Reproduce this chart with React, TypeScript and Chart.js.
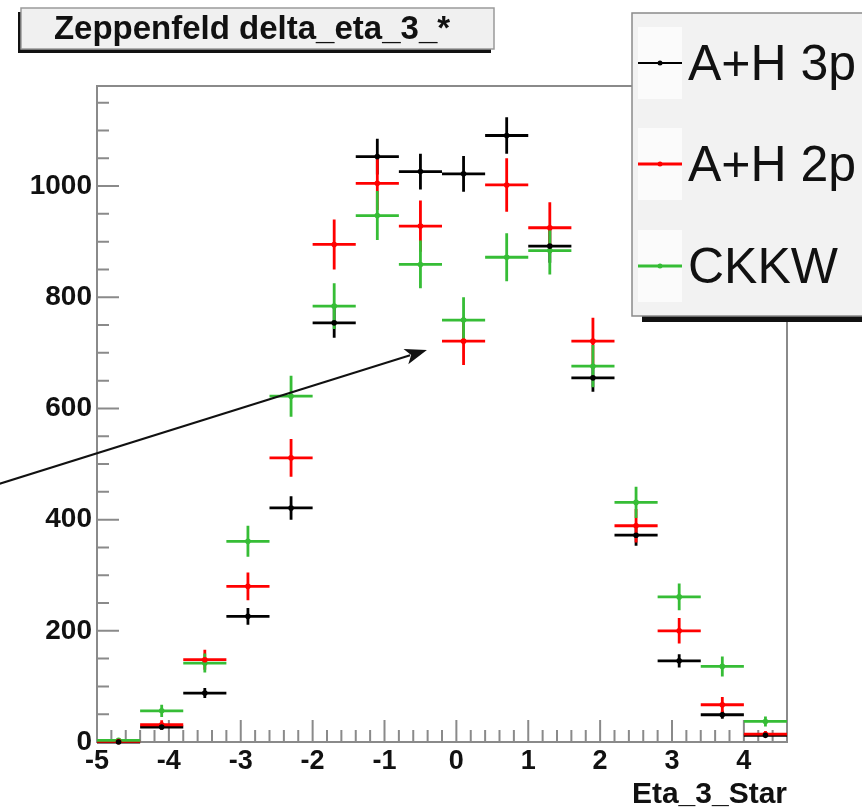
import React, { useEffect, useRef } from 'react';
import { Chart, registerables } from 'chart.js';

Chart.register(...registerables);

// ---------- data ----------
const BIN_CENTERS = [-4.7, -4.1, -3.5, -2.9, -2.3, -1.7, -1.1, -0.5, 0.1, 0.7, 1.3, 1.9, 2.5, 3.1, 3.7, 4.3];
const BIN_WIDTH = 0.6;

const AH3P_VALUES = [0, 27, 88, 226, 421, 754, 1053, 1026, 1022, 1091, 892, 655, 372, 146, 49, 12];
const AH3P_ERRORS = [0, 5, 9, 15, 21, 27, 32, 32, 32, 33, 30, 25, 19, 12, 7, 3];

const AH2P_VALUES = [1, 31, 148, 280, 511, 895, 1005, 928, 721, 1002, 925, 721, 389, 200, 67, 14];
const AH2P_ERRORS = [1, 8, 18, 25, 34, 45, 48, 46, 43, 48, 46, 42, 30, 23, 14, 6];

const CKKW_VALUES = [3, 56, 142, 361, 622, 784, 947, 859, 759, 872, 884, 676, 431, 261, 136, 37];
const CKKW_ERRORS = [2, 11, 17, 28, 37, 41, 44, 43, 41, 43, 43, 38, 28, 24, 18, 9];

const SERIES_LABELS = ['A+H 3p', 'A+H 2p', 'CKKW'];
const SERIES_COLORS = ['#000000', '#ff0000', '#36bd36'];

const CHART_TITLE = 'Zeppenfeld delta_eta_3_*';
const X_TITLE = 'Eta_3_Star';

const X_MIN = -5;
const X_MAX = 4.6;
const Y_MIN = 0;
const Y_MAX = 1180;
const X_TICK_VALUES = [-5, -4, -3, -2, -1, 0, 1, 2, 3, 4];
const Y_TICK_VALUES = [0, 200, 400, 600, 800, 1000];
const X_MINOR_STEP = 0.2;
const Y_MINOR_STEP = 50;

// arrow annotation in data coordinates
const ARROW_FROM = { x: -6.37, y: 464 };
const ARROW_TO = { x: -0.41, y: 705 };

const FONT = '"Liberation Sans", Arial, Helvetica, sans-serif';
const FRAME_COLOR = '#8a8a8a';

function makePoints(values: number[]) {
  return values.map((v, i) => ({ x: BIN_CENTERS[i], y: v }));
}

const rootStylePlugin = {
  id: 'rootStyle',
  beforeDatasetsDraw(chart: any) {
    const { ctx, chartArea: ca, scales } = chart;
    const xs = scales.x;
    const ys = scales.y;
    ctx.save();
    // frame
    ctx.strokeStyle = FRAME_COLOR;
    ctx.lineWidth = 2;
    ctx.strokeRect(ca.left, ca.top, ca.right - ca.left, ca.bottom - ca.top);
    ctx.beginPath();
    // x ticks (inward)
    const nX = Math.round((X_MAX - X_MIN) / X_MINOR_STEP);
    for (let k = 0; k <= nX; k++) {
      const v = X_MIN + k * X_MINOR_STEP;
      const isMajor = X_TICK_VALUES.some((t) => Math.abs(t - v) < 1e-6);
      const px = xs.getPixelForValue(v);
      const len = isMajor ? 22 : 12;
      ctx.moveTo(px, ca.bottom);
      ctx.lineTo(px, ca.bottom - len);
    }
    // y ticks (inward)
    const nY = Math.floor((Y_MAX - Y_MIN) / Y_MINOR_STEP);
    for (let k = 0; k <= nY; k++) {
      const v = Y_MIN + k * Y_MINOR_STEP;
      const isMajor = Y_TICK_VALUES.includes(v);
      const py = ys.getPixelForValue(v);
      const len = isMajor ? 22 : 12;
      ctx.moveTo(ca.left, py);
      ctx.lineTo(ca.left + len, py);
    }
    ctx.stroke();

    // error bars
    chart.data.datasets.forEach((ds: any, i: number) => {
      const meta = chart.getDatasetMeta(i);
      if (meta.hidden) return;
      ctx.strokeStyle = ds.borderColor;
      ctx.lineWidth = 2.8;
      ds.data.forEach((p: any, j: number) => {
        const err = ds.errors[j];
        const yC = ys.getPixelForValue(p.y);
        const x0 = xs.getPixelForValue(p.x - BIN_WIDTH / 2);
        const x1 = xs.getPixelForValue(p.x + BIN_WIDTH / 2);
        const xC = xs.getPixelForValue(p.x);
        ctx.beginPath();
        ctx.moveTo(x0, yC);
        ctx.lineTo(x1, yC);
        if (err > 0) {
          ctx.moveTo(xC, ys.getPixelForValue(p.y + err));
          ctx.lineTo(xC, ys.getPixelForValue(Math.max(Y_MIN, p.y - err)));
        }
        ctx.stroke();
      });
    });
    ctx.restore();
  },
  afterDraw(chart: any) {
    const { ctx, scales } = chart;
    const xs = scales.x;
    const ys = scales.y;
    ctx.save();

    // arrow
    const ax0 = xs.getPixelForValue(ARROW_FROM.x);
    const ay0 = ys.getPixelForValue(ARROW_FROM.y);
    const ax1 = xs.getPixelForValue(ARROW_TO.x);
    const ay1 = ys.getPixelForValue(ARROW_TO.y);
    const ang = Math.atan2(ay1 - ay0, ax1 - ax0);
    const headLen = 22;
    const headHalf = 8;
    ctx.strokeStyle = '#111';
    ctx.fillStyle = '#111';
    ctx.lineWidth = 2;
    ctx.beginPath();
    ctx.moveTo(ax0, ay0);
    ctx.lineTo(ax1 - Math.cos(ang) * headLen * 0.8, ay1 - Math.sin(ang) * headLen * 0.8);
    ctx.stroke();
    const bx = ax1 - Math.cos(ang) * headLen;
    const by = ay1 - Math.sin(ang) * headLen;
    ctx.beginPath();
    ctx.moveTo(ax1, ay1);
    ctx.lineTo(bx + Math.sin(ang) * headHalf, by - Math.cos(ang) * headHalf);
    ctx.lineTo(bx + Math.cos(ang) * headLen * 0.25, by + Math.sin(ang) * headLen * 0.25);
    ctx.lineTo(bx - Math.sin(ang) * headHalf, by + Math.cos(ang) * headHalf);
    ctx.closePath();
    ctx.fill();

    // title box
    const tb = { x: 21, y: 8, w: 473, h: 41 };
    ctx.fillStyle = '#111';
    ctx.fillRect(tb.x - 3, tb.y + 4, tb.w, tb.h);
    ctx.fillStyle = '#f0f0f0';
    ctx.fillRect(tb.x, tb.y, tb.w, tb.h);
    ctx.strokeStyle = '#9a9a9a';
    ctx.lineWidth = 1.5;
    ctx.strokeRect(tb.x, tb.y, tb.w, tb.h);
    ctx.fillStyle = '#111';
    ctx.font = `bold 33px ${FONT}`;
    ctx.textAlign = 'center';
    ctx.textBaseline = 'alphabetic';
    ctx.fillText(CHART_TITLE, 252, 39);

    // legend box
    const lb = { x: 632, y: 13, w: 260, h: 303 };
    ctx.fillStyle = '#111';
    ctx.fillRect(lb.x + 10, lb.y + 6, lb.w, lb.h);
    ctx.fillStyle = '#f2f2f2';
    ctx.fillRect(lb.x, lb.y, lb.w, lb.h);
    ctx.strokeStyle = '#8a8a8a';
    ctx.lineWidth = 1.5;
    ctx.strokeRect(lb.x, lb.y, lb.w, lb.h);
    const rowY = [63, 164, 266];
    chart.data.datasets.forEach((ds: any, i: number) => {
      const ly = rowY[i];
      ctx.fillStyle = '#fbfbfb';
      ctx.fillRect(638, ly - 36, 44, 72);
      ctx.strokeStyle = ds.borderColor;
      ctx.lineWidth = i === 0 ? 2 : 3;
      ctx.beginPath();
      ctx.moveTo(638, ly);
      ctx.lineTo(682, ly);
      ctx.stroke();
      ctx.fillStyle = ds.borderColor;
      ctx.beginPath();
      ctx.arc(660, ly, 2.5, 0, Math.PI * 2);
      ctx.fill();
      ctx.fillStyle = '#111';
      ctx.font = `50px ${FONT}`;
      ctx.textAlign = 'left';
      ctx.textBaseline = 'alphabetic';
      ctx.fillText(ds.label, 688, ly + 17);
    });
    ctx.restore();
  },
};

export default function App() {
  const canvasRef = useRef<HTMLCanvasElement | null>(null);

  useEffect(() => {
    const canvas = canvasRef.current;
    if (!canvas) return;
    const seriesValues = [AH3P_VALUES, AH2P_VALUES, CKKW_VALUES];
    const seriesErrors = [AH3P_ERRORS, AH2P_ERRORS, CKKW_ERRORS];
    const chart = new Chart(canvas, {
      type: 'scatter',
      data: {
        datasets: SERIES_LABELS.map((label, i) => ({
          label,
          data: makePoints(seriesValues[i]),
          errors: seriesErrors[i],
          borderColor: SERIES_COLORS[i],
          backgroundColor: SERIES_COLORS[i],
          pointBackgroundColor: SERIES_COLORS[i],
          pointBorderColor: SERIES_COLORS[i],
          pointRadius: 2.8,
          pointBorderWidth: 0,
          showLine: false,
          clip: false,
        })) as any,
      },
      options: {
        responsive: false,
        animation: false,
        devicePixelRatio: 1,
        layout: { padding: { left: 0, top: 86, right: 75, bottom: 0 } },
        plugins: {
          legend: { display: false },
          tooltip: { enabled: false },
          title: { display: false },
        },
        scales: {
          x: {
            type: 'linear',
            min: X_MIN,
            max: X_MAX,
            afterBuildTicks: (s: any) => {
              s.ticks = X_TICK_VALUES.map((v) => ({ value: v }));
            },
            afterFit: (s: any) => {
              s.height = 68;
            },
            grid: { display: false, drawTicks: false },
            border: { display: false },
            ticks: {
              color: '#111',
              padding: 3,
              maxRotation: 0,
              autoSkip: false,
              font: { family: FONT, size: 27, weight: 'bold' },
            },
            title: {
              display: true,
              text: X_TITLE,
              align: 'end',
              color: '#111',
              padding: 0,
              font: { family: FONT, size: 30, weight: 'bold', lineHeight: 1 },
            },
          },
          y: {
            type: 'linear',
            min: Y_MIN,
            max: Y_MAX,
            afterBuildTicks: (s: any) => {
              s.ticks = Y_TICK_VALUES.map((v) => ({ value: v }));
            },
            afterFit: (s: any) => {
              s.width = 97;
            },
            grid: { display: false, drawTicks: false },
            border: { display: false },
            ticks: {
              color: '#111',
              padding: 5,
              autoSkip: false,
              callback: (v: any) => String(v),
              font: { family: FONT, size: 28, weight: 'bold' },
            },
          },
        },
      } as any,
      plugins: [rootStylePlugin],
    });
    return () => chart.destroy();
  }, []);

  return (
    <div style={{ position: 'absolute', left: 0, top: 0, width: 862, height: 810, background: '#fff' }}>
      <canvas ref={canvasRef} width={862} height={810} style={{ width: 862, height: 810, display: 'block' }} />
    </div>
  );
}
